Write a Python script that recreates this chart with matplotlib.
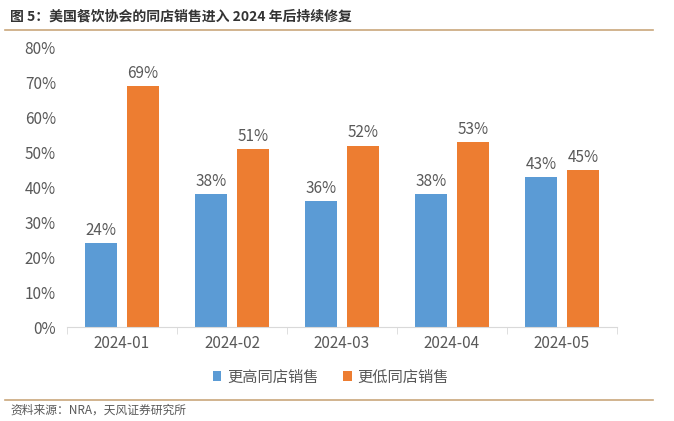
import matplotlib.pyplot as plt
import numpy as np

plt.rcParams['font.family'] = ['Noto Sans CJK SC', 'DejaVu Sans']

months = ['2024-01', '2024-02', '2024-03', '2024-04', '2024-05']
higher = [24, 38, 36, 38, 43]
lower = [69, 51, 52, 53, 45]
yticks = [0, 10, 20, 30, 40, 50, 60, 70, 80]

blue = '#5B9BD5'
orange = '#ED7D31'
gray = '#595959'

fig = plt.figure(figsize=(6.74, 4.21), dpi=100)
ax = fig.add_axes([67 / 674, 1 - 327 / 421, 550 / 674, 279 / 421])

x = np.arange(len(months))
w = 0.295
off = 0.19
b1 = ax.bar(x - off, higher, w, color=blue, label='更高同店销售')
b2 = ax.bar(x + off, lower, w, color=orange, label='更低同店销售')

for bars, vals in ((b1, higher), (b2, lower)):
    for r, v in zip(bars, vals):
        ax.text(r.get_x() + r.get_width() / 2, v + 1.3, f'{v}%', ha='center', va='bottom',
                fontsize=11, color=gray)

ax.set_xlim(-0.5, len(months) - 0.5)
ax.set_ylim(0, 80)
ax.set_yticks(yticks)
ax.set_yticklabels([f'{t}%' for t in yticks], fontsize=11, color=gray)
ax.set_xticks(x)
ax.set_xticklabels(months, fontsize=11, color=gray)
ax.set_xticks(np.arange(len(months) + 1) - 0.5, minor=True)
ax.tick_params(axis='x', which='major', length=0, pad=6)
ax.tick_params(axis='x', which='minor', length=5, color='#D9D9D9')
ax.tick_params(axis='y', length=0, pad=8)
for s in ('top', 'right', 'left'):
    ax.spines[s].set_visible(False)
ax.spines['bottom'].set_color('#D9D9D9')

leg = fig.legend(handles=[b1, b2], loc='center', bbox_to_anchor=(331 / 674, 1 - 377 / 421),
                 ncol=2, frameon=False, fontsize=11, handlelength=0.55, handleheight=0.55,
                 handletextpad=0.4, columnspacing=1.6)
for t in leg.get_texts():
    t.set_color(gray)

fig.text(10 / 674, 1 - 17 / 421, '图 5：美国餐饮协会的同店销售进入 2024 年后持续修复',
         fontsize=10, fontweight='bold', color='#333333', va='center')
fig.add_artist(plt.Line2D([5 / 674, 653 / 674], [1 - 30 / 421] * 2, color='#C9A77C', lw=1.2))
fig.add_artist(plt.Line2D([5 / 674, 653 / 674], [1 - 400 / 421] * 2, color='#C9A77C', lw=1.2))
fig.text(10 / 674, 1 - 410 / 421, '资料来源：NRA，天风证券研究所', fontsize=8.5, color=gray, va='center')

fig.savefig('out.png', dpi=100)
